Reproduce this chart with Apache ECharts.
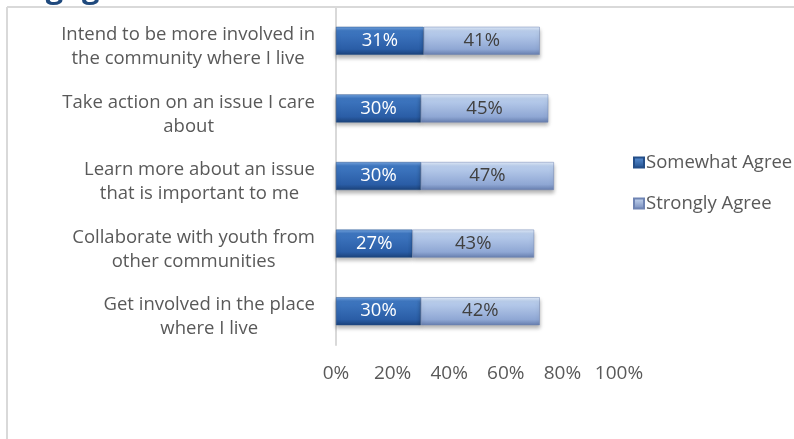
<!DOCTYPE html>
<html>
<head>
<meta charset="utf-8">
<script src="https://cdn.jsdelivr.net/npm/echarts@6/dist/echarts.min.js"></script>
<style>html,body{margin:0;padding:0;background:#fff}#c{width:794px;height:439px}</style>
</head>
<body>
<div id="c"></div>
<script>
const categories = [
  "Intend to be more involved in\nthe community where I live",
  "Take action on an issue I care\nabout",
  "Learn more about an issue\nthat is important to me",
  "Collaborate with youth from\nother communities",
  "Get involved in the place\nwhere I live"
];
const somewhatAgree = [31, 30, 30, 27, 30];
const stronglyAgree = [41, 45, 47, 43, 42];
const xTicks = [0, 20, 40, 60, 80, 100];
const titleText = "Engagement";

const FONT = "Open Sans";
const FS = 18.5;
const chart = echarts.init(document.getElementById('c'));
const grad = (stops) => new echarts.graphic.LinearGradient(0, 0, 0, 1, stops.map((c) => ({offset: c[0], color: c[1]})));
const darkGrad = grad([[0,'#74A4E0'],[0.14,'#3F78C2'],[0.8,'#2A5DA6'],[1,'#1B427A']]);
const lightGrad = grad([[0,'#E2ECF9'],[0.14,'#BCD0EE'],[0.8,'#8FA7D4'],[1,'#667DAE']]);

chart.setOption({
  animation: false,
  textStyle: {fontFamily: FONT},
  grid: {left: 336, right: 175, top: 7, bottom: 94, containLabel: false},
  graphic: [
    {type: 'line', shape: {x1: 7, y1: 7, x2: 794, y2: 7}, style: {stroke: '#D9D9D9', lineWidth: 2}, z: 0},
    {type: 'line', shape: {x1: 7, y1: 7, x2: 7, y2: 439}, style: {stroke: '#D9D9D9', lineWidth: 2}, z: 0},
    {type: 'text', left: 8, top: -26, style: {text: titleText, fontFamily: FONT, fontWeight: 'bold', fontSize: 31, fill: '#1F497D'}, z: 10}
  ],
  legend: {
    orient: 'vertical', left: 628, top: 148, itemGap: 22,
    itemWidth: 10, itemHeight: 10, icon: 'rect',
    textStyle: {fontFamily: FONT, fontSize: FS, color: '#595959', padding: [0,0,0,-3]},
    data: [
      {name: 'Somewhat Agree', itemStyle: {color: grad([[0,'#5E93D8'],[1,'#1F4E8C']])}},
      {name: 'Strongly Agree', itemStyle: {color: grad([[0,'#C9DAF2'],[1,'#7389BB']])}}
    ]
  },
  xAxis: {
    type: 'value', min: 0, max: 100, interval: 20,
    axisLine: {show: false}, axisTick: {show: false}, splitLine: {show: false},
    axisLabel: {formatter: '{value}%', fontFamily: FONT, fontSize: 19, color: '#595959', margin: 19,
      customValues: xTicks}
  },
  yAxis: {
    type: 'category', data: categories, inverse: true,
    axisTick: {show: false},
    axisLine: {show: true, lineStyle: {color: '#D9D9D9', width: 2}},
    axisLabel: {
      fontFamily: FONT, fontSize: FS, color: '#595959', margin: 21, align: 'right',
      padding: [12, 0, 0, 0],
      formatter: (v) => v.split('\n').map(s => '{c|' + s + '}').join('\n'),
      rich: {c: {align: 'center', fontFamily: FONT, fontSize: FS, color: '#595959', lineHeight: 24}}
    }
  },
  series: [
    {
      name: 'Somewhat Agree', type: 'bar', stack: 'a', barWidth: 28, data: somewhatAgree,
      itemStyle: {color: darkGrad, borderColor: '#244E88', borderWidth: 0.5,
        shadowColor: 'rgba(0,0,0,0.3)', shadowBlur: 4, shadowOffsetY: 3},
      label: {show: true, position: 'inside', formatter: '{c}%', fontFamily: FONT, fontSize: FS, color: '#FFFFFF'}
    },
    {
      name: 'Strongly Agree', type: 'bar', stack: 'a', barWidth: 28, data: stronglyAgree,
      itemStyle: {color: lightGrad, borderColor: '#6F84B3', borderWidth: 0.5,
        shadowColor: 'rgba(0,0,0,0.3)', shadowBlur: 4, shadowOffsetY: 3},
      label: {show: true, position: 'inside', formatter: '{c}%', fontFamily: FONT, fontSize: FS, color: '#404040'}
    }
  ]
});
</script>
</body>
</html>
